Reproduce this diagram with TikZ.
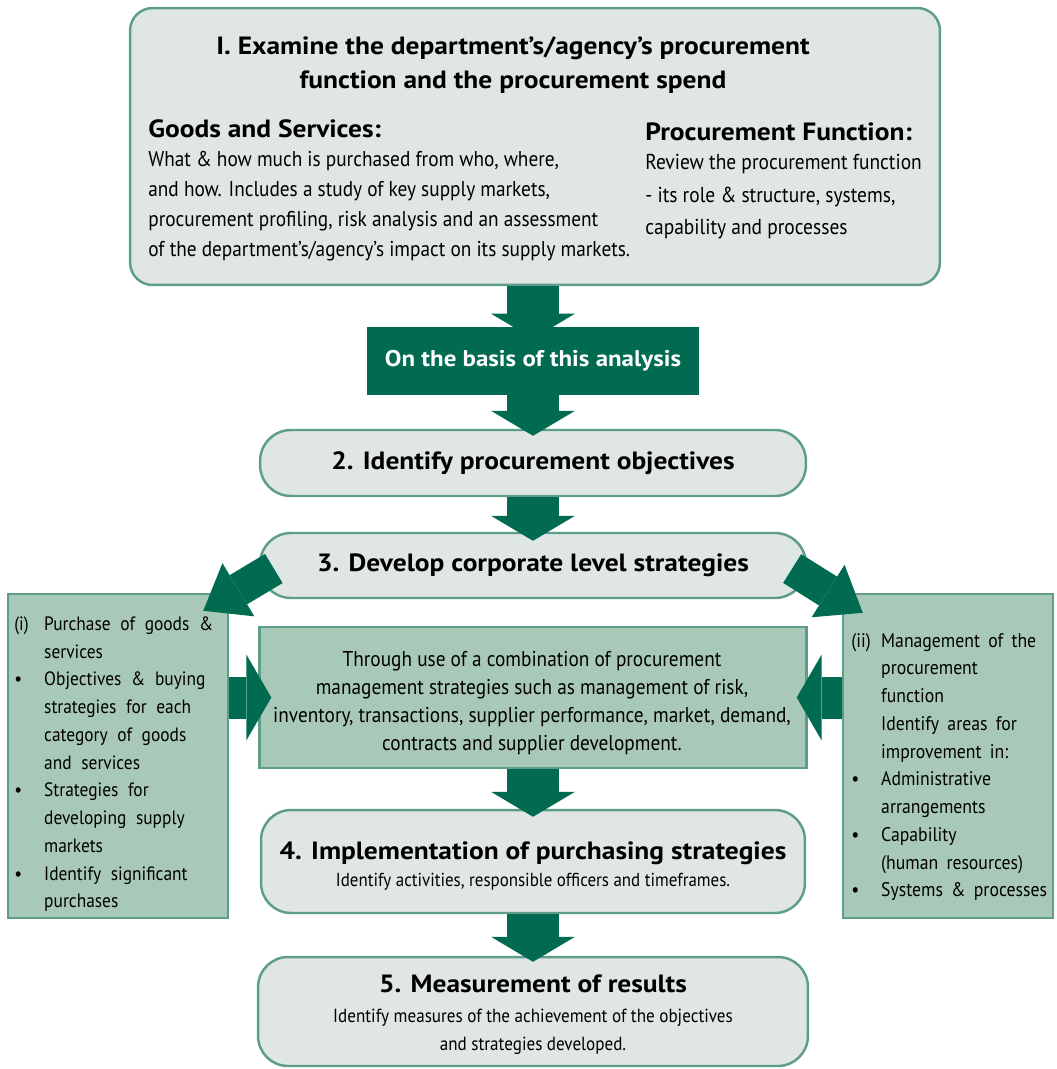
\documentclass[tikz,border=0pt]{standalone}
\usepackage{fontspec}
\setmainfont{PT Sans}[UprightFeatures={FakeStretch=0.9}, BoldFeatures={FakeStretch=1.1}]
\usetikzlibrary{arrows.meta}
\definecolor{arrowgreen}{HTML}{006B50}
\definecolor{edgegreen}{HTML}{5E9E88}
\definecolor{paleface}{HTML}{DFE6E3}
\definecolor{midface}{HTML}{A9C9B8}

\begin{document}
\begin{tikzpicture}[x=0.02cm, y=-0.02cm,
    palebox/.style={draw=edgegreen, line width=1.4pt, fill=paleface, rounded corners=0.45cm, inner sep=0pt},
    pill/.style={palebox, rounded corners=0.62cm},
    greenbox/.style={draw=edgegreen, line width=1.4pt, fill=midface, inner sep=0pt},
    bigarrow/.style={draw=arrowgreen, line width=1.04cm, -{Triangle[width=1.68cm, length=0.5cm, line width'=0pt]}},
    sidearrow/.style={draw=arrowgreen, line width=0.84cm, -{Triangle[width=1.72cm, length=0.5cm, line width'=0pt]}},
    slantarrow/.style={draw=arrowgreen, line width=0.68cm, -{Triangle[width=1.24cm, length=0.82cm, line width'=0pt]}},
    heading/.style={font=\fontsize{14.2}{19}\selectfont\bfseries},
    listtext/.style={anchor=west, inner sep=0pt, font=\fontsize{#1}{15.8}\selectfont},
  ]
    \useasboundingbox (0,0) rectangle (1056,1069);
    % Step 1
    \node[palebox, minimum width=16.2cm, minimum height=5.54cm] (b1) at (535,146.5) {};
    \node[heading, align=center] (t1) at (513,65)
      {I. Examine the department’s/agency’s procurement\\function and the procurement spend};
    \node[heading, anchor=west, inner sep=0pt] (goodshd) at (148,129) {Goods and Services:};
    \node[font=\fontsize{12.2}{17}\selectfont, anchor=west, align=left, inner sep=0pt] (goodstx) at (148,206)
      {What \& how much is purchased from who, where,\\
       and how. Includes a study of key supply markets,\\
       procurement profiling, risk analysis and an assessment\\
       of the department’s/agency’s impact on its supply markets.};
    \node[heading, anchor=west, inner sep=0pt] (prochd) at (645,132) {Procurement Function:};
    \node[font=\fontsize{12.3}{18.5}\selectfont, anchor=west, align=left, inner sep=0pt] (proctx) at (645,197)
      {Review the procurement function\\
       - its role \& structure, systems,\\
       capability and processes};
    % Analysis
    \node[fill=arrowgreen, text=white, font=\fontsize{12.9}{15}\selectfont\bfseries,
          minimum width=6.64cm, minimum height=1.36cm] (basis) at (533,361) {On the basis of this analysis};
    % Steps 2 and 3
    \node[pill, heading, minimum width=10.92cm, minimum height=1.32cm] (b2) at (533,463) {2. Identify procurement objectives};
    \node[pill, heading, minimum width=10.92cm, minimum height=1.3cm] (b3) at (533,565.5) {3. Develop corporate level strategies};
    % Side boxes
    \node[greenbox, minimum width=4.4cm, minimum height=6.48cm] (sidel) at (118,756) {};
    \node[greenbox, minimum width=4.2cm, minimum height=6.48cm] (sider) at (948,756) {};
    \node[greenbox, minimum width=10.94cm, minimum height=2.82cm] (mid) at (533,697.5) {};
    \node[font=\fontsize{12.2}{16.1}\selectfont, align=center] (midtx) at (532,703)
      {Through use of a combination of procurement\\
       management strategies such as management of risk,\\
       inventory, transactions, supplier performance, market, demand,\\
       contracts and supplier development.};
    \node[listtext=11] (ltx) at (14,763.5)
      {\spaceskip=0.5em\relax
       \begin{tabular}{@{}p{17pt}@{}l@{}}
        (i) & Purchase of goods \&\\
            & services\\
        \textbullet & Objectives \& buying\\
            & strategies for each\\
            & category of goods\\
            & and services\\
        \textbullet & Strategies for\\
            & developing supply\\
            & markets\\
        \textbullet & Identify significant\\
            & purchases
       \end{tabular}};
    \node[listtext=11.2] (rtx) at (851,766.5)
      {\spaceskip=0.42em\relax
       \begin{tabular}{@{}p{17pt}@{}l@{}}
        (ii) & Management of the\\
             & procurement\\
             & function\\
             & Identify areas for\\
             & improvement in:\\
        \textbullet & Administrative\\
             & arrangements\\
        \textbullet & Capability\\
             & (human resources)\\
        \textbullet & Systems \& processes
       \end{tabular}};
    % Steps 4 and 5
    \node[palebox, rounded corners=0.6cm, minimum width=10.88cm, minimum height=2.06cm] (b4) at (533,861.5) {};
    \node[heading, align=center] (b4tx) at (533,866)
      {4. Implementation of purchasing strategies\\[-4pt]
       \fontsize{10.7}{14}\selectfont\mdseries Identify activities, responsible officers and timeframes.};
    \node[palebox, rounded corners=0.6cm, minimum width=11cm, minimum height=2.18cm] (b5) at (533,1011.5) {};
    \node[heading, align=center] (b5tx) at (533,1015)
      {5. Measurement of results\\[-2pt]
       \fontsize{10.8}{14}\selectfont\mdseries Identify measures of the achievement of the objectives\\[-3pt]
       \fontsize{10.8}{14}\selectfont\mdseries and strategies developed.};
    % Arrows
    \draw[bigarrow] (basis.north |- b1.south) -- ([shift={(0,12)}]basis.north);
    \draw[bigarrow] (basis.south) -- ([shift={(0,7)}]b2.north);
    \draw[bigarrow] (b2.south) -- ([shift={(0,9)}]b3.north);
    \draw[slantarrow] ([shift={(15,3)}]b3.west) -- ([shift={(-26,18)}]sidel.north east);
    \draw[slantarrow] ([shift={(-15,3)}]b3.east) -- ([shift={(21,20)}]sider.north west);
    \draw[sidearrow] (sidel.east |- mid.west) -- ([shift={(13,0)}]mid.west);
    \draw[sidearrow] (sider.west |- mid.east) -- ([shift={(-11,0)}]mid.east);
    \draw[bigarrow] (mid.south) -- ([shift={(0,8)}]b4.north);
    \draw[bigarrow] (b4.south) -- ([shift={(0,6)}]b5.north);
  \end{tikzpicture}
\end{document}
